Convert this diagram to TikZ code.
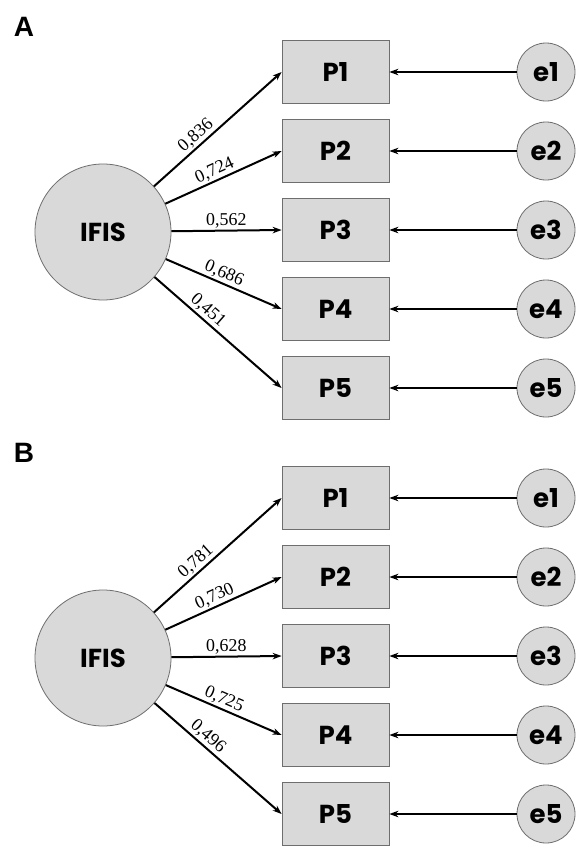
\documentclass[tikz,border=0pt]{standalone}
\usepackage{fontspec}
\setmainfont{Liberation Serif}
\newfontfamily\gothic{Poppins}
\newfontfamily\arialfont{Liberation Sans}
\usetikzlibrary{arrows.meta}
\definecolor{boxfill}{HTML}{D9D9D9}
\definecolor{boxline}{HTML}{6E6E6E}
\tikzset{
 nodefont/.style={font=\gothic\bfseries\fontsize{26}{30}\selectfont},
 latent/.style={circle, draw=boxline, fill=boxfill, line width=0.8pt, minimum size=136pt, inner sep=0pt, nodefont},
 errnode/.style={circle, draw=boxline, fill=boxfill, line width=0.8pt, minimum size=58pt, inner sep=0pt, nodefont},
 itembox/.style={rectangle, draw=boxline, fill=boxfill, line width=0.8pt, minimum width=107pt, minimum height=63pt, inner sep=0pt, nodefont},
 loadarrow/.style={draw=black, line width=2pt, -{Stealth[length=9pt,width=6.5pt]}},
 coef/.style={font=\fontsize{18}{21}\selectfont, sloped, above, inner sep=1.5pt},
 panellabel/.style={font=\arialfont\bfseries\fontsize{28}{32}\selectfont, inner sep=0pt}
}
\newcommand{\sempanel}[8]{%
 \node[panellabel] (lab#1) at (24,27+#2) {#3};
 \node[latent] (ifis#1) at (103,232+#2) {IFIS};
 \foreach \i/\y in {1/72,2/151,3/230,4/309,5/388} {
  \node[itembox] (p\i#1) at (335.5,\y+#2) {P\i};
  \node[errnode] (e\i#1) at (546,\y+#2) {e\i};
  \draw[loadarrow] (e\i#1) -- (p\i#1);
 }
 \draw[loadarrow] (ifis#1) -- node[coef,pos=0.38]{#4} (p1#1.west);
 \draw[loadarrow] (ifis#1) -- node[coef,pos=0.46]{#5} (p2#1.west);
 \draw[loadarrow] (ifis#1) -- node[coef,pos=0.5]{#6} (p3#1.west);
 \draw[loadarrow] (ifis#1) -- node[coef,pos=0.47]{#7} (p4#1.west);
 \draw[loadarrow] (ifis#1) -- node[coef,pos=0.37]{#8} (p5#1.west);
}
\begin{document}
\begin{tikzpicture}[x=1pt,y=-1pt]
\useasboundingbox (0,0) rectangle (576,846);
\fill[white] (0,0) rectangle (576,846);
\sempanel{A}{0}{A}{0,836}{0,724}{0,562}{0,686}{0,451}
\sempanel{B}{426}{B}{0,781}{0,730}{0,628}{0,725}{0,496}
\end{tikzpicture}
\end{document}
